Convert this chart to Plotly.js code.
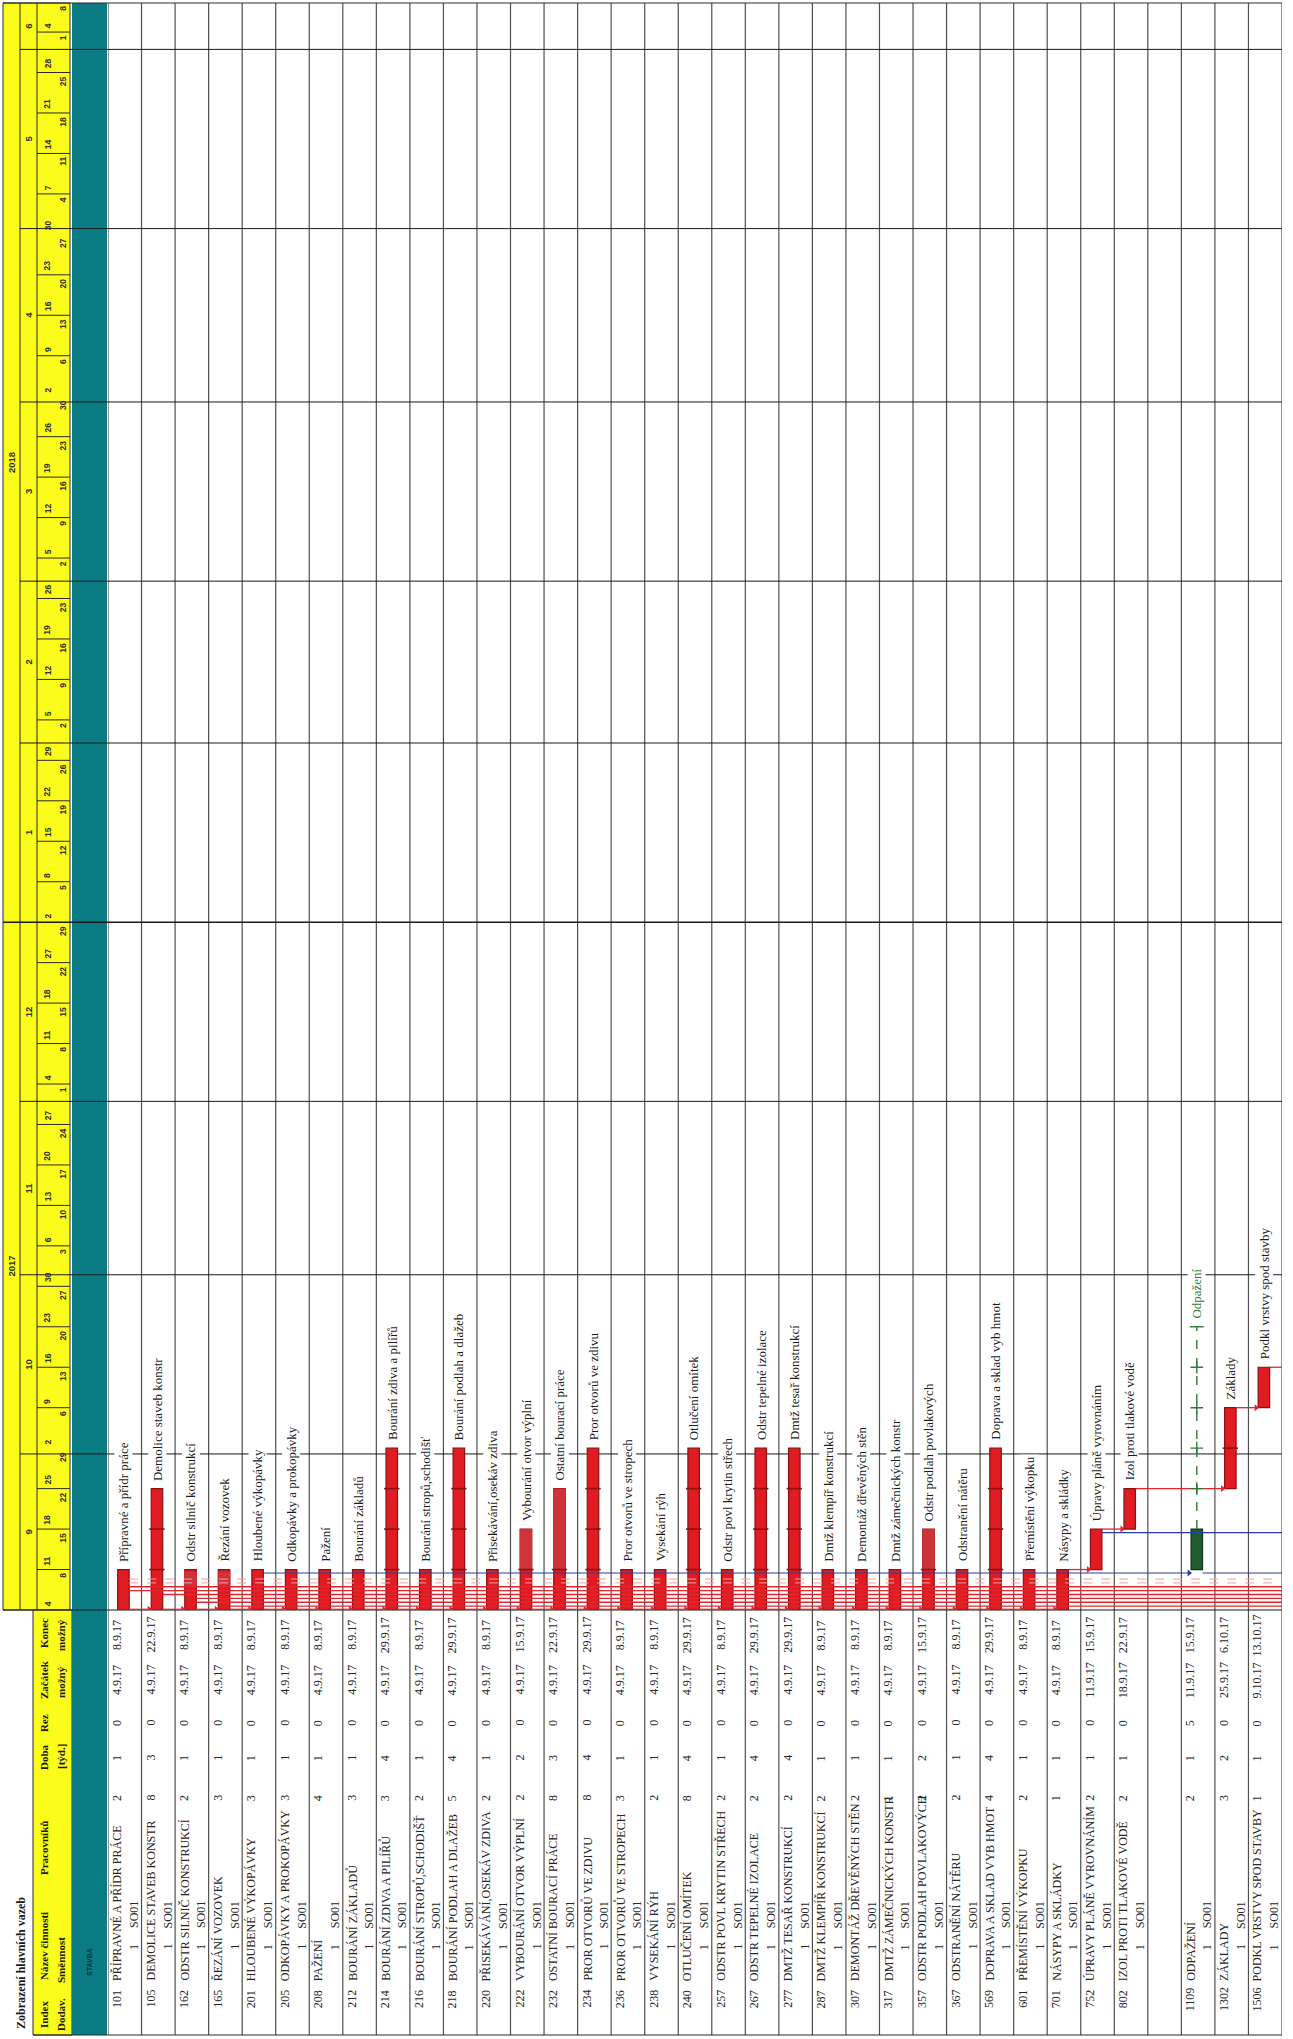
<!DOCTYPE html>
<html><head><meta charset="utf-8">
<script src="https://cdn.plot.ly/plotly-3.0.1.min.js"></script>
<style>html,body{margin:0;padding:0;background:#fff}#g{width:1293px;height:2039px}</style>
</head><body><div id="g"></div>
<script>
// ================= DATA =================
const indexy = [101,105,162,165,201,205,208,212,214,216,218,220,222,232,234,236,238,240,257,267,277,287,307,317,357,367,569,601,701,752,802,null,1109,1302,1506];
const nazvy = ["PŘÍPRAVNÉ A PŘÍDR PRÁCE","DEMOLICE STAVEB KONSTR","ODSTR SILNIČ KONSTRUKCÍ","ŘEZÁNÍ VOZOVEK","HLOUBENÉ VÝKOPÁVKY","ODKOPÁVKY A PROKOPÁVKY","PAŽENÍ","BOURÁNÍ ZÁKLADŮ","BOURÁNÍ ZDIVA A PILÍŘŮ","BOURÁNÍ STROPŮ,SCHODIŠŤ","BOURÁNÍ PODLAH A DLAŽEB","PŘISEKÁVÁNÍ,OSEKÁV ZDIVA","VYBOURÁNÍ OTVOR VÝPLNÍ","OSTATNÍ BOURACÍ PRÁCE","PROR OTVORŮ VE ZDIVU","PROR OTVORŮ VE STROPECH","VYSEKÁNÍ RÝH","OTLUČENÍ OMÍTEK","ODSTR POVL KRYTIN STŘECH","ODSTR TEPELNÉ IZOLACE","DMTŽ TESAŘ KONSTRUKCÍ","DMTŽ KLEMPÍŘ KONSTRUKCÍ","DEMONTÁŽ DŘEVĚNÝCH STĚN","DMTŽ ZÁMEČNICKÝCH KONSTR","ODSTR PODLAH POVLAKOVÝCH","ODSTRANĚNÍ NÁTĚRU","DOPRAVA A SKLAD VYB HMOT","PŘEMÍSTĚNÍ VÝKOPKU","NÁSYPY A SKLÁDKY","ÚPRAVY PLÁNĚ VYROVNÁNÍM","IZOL PROTI TLAKOVÉ VODĚ",null,"ODPAŽENÍ","ZÁKLADY","PODKL VRSTVY SPOD STAVBY"];
const popisky = ["Přípravné a přídr práce","Demolice staveb konstr","Odstr silnič konstrukcí","Řezání vozovek","Hloubené výkopávky","Odkopávky a prokopávky","Pažení","Bourání základů","Bourání zdiva a pilířů","Bourání stropů,schodišť","Bourání podlah a dlažeb","Přisekávání,osekáv zdiva","Vybourání otvor výplní","Ostatní bourací práce","Pror otvorů ve zdivu","Pror otvorů ve stropech","Vysekání rýh","Otlučení omítek","Odstr povl krytin střech","Odstr tepelné izolace","Dmtž tesař konstrukcí","Dmtž klempíř konstrukcí","Demontáž dřevěných stěn","Dmtž zámečnických konstr","Odstr podlah povlakových","Odstranění nátěru","Doprava a sklad vyb hmot","Přemístění výkopku","Násypy a skládky","Úpravy pláně vyrovnáním","Izol proti tlakové vodě",null,"Odpažení","Základy","Podkl vrstvy spod stavby"];
const pracovniku = [2,8,2,3,3,3,4,3,3,2,5,2,2,8,8,3,2,8,2,2,2,2,2,1,2,2,4,2,1,2,2,null,2,3,1];
const doba = [1,3,1,1,1,1,1,1,4,1,4,1,2,3,4,1,1,4,1,4,4,1,1,1,2,1,4,1,1,1,1,null,1,2,1];
const rezerva = [0,0,0,0,0,0,0,0,0,0,0,0,0,0,0,0,0,0,0,0,0,0,0,0,0,0,0,0,0,0,0,null,5,0,0];
const zacatek = ["4.9.17","4.9.17","4.9.17","4.9.17","4.9.17","4.9.17","4.9.17","4.9.17","4.9.17","4.9.17","4.9.17","4.9.17","4.9.17","4.9.17","4.9.17","4.9.17","4.9.17","4.9.17","4.9.17","4.9.17","4.9.17","4.9.17","4.9.17","4.9.17","4.9.17","4.9.17","4.9.17","4.9.17","4.9.17","11.9.17","18.9.17",null,"11.9.17","25.9.17","9.10.17"];
const konec = ["8.9.17","22.9.17","8.9.17","8.9.17","8.9.17","8.9.17","8.9.17","8.9.17","29.9.17","8.9.17","29.9.17","8.9.17","15.9.17","22.9.17","29.9.17","8.9.17","8.9.17","29.9.17","8.9.17","29.9.17","29.9.17","8.9.17","8.9.17","8.9.17","15.9.17","8.9.17","29.9.17","8.9.17","8.9.17","15.9.17","22.9.17",null,"15.9.17","6.10.17","13.10.17"];
const smennost = "1";
const objekt = "SO01";
const kriticka = [1,1,1,1,1,1,1,1,1,1,1,1,1,1,1,1,1,1,1,1,1,1,1,1,1,1,1,1,1,1,1,null,0,1,1];
const lehkeUkoly = [2,3,12,13,24];
const lehkeOd = [4.2,4.2,7,7,7];
const lehkeDelka = [2.4,2.4,7,14,7];
const pondeli = ["4","11","18","25","2","9","16","23","30","6","13","20","27","4","11","18","27","2","8","15","22","29","5","12","19","26","5","12","19","26","2","9","16","23","30","7","14","21","28","4"];
const patky = ["8","15","22","29","6","13","20","27","3","10","17","24","1","8","15","22","29","5","12","19","26","2","9","16","23","2","9","16","23","30","6","13","20","27","4","11","18","25","1","8"];
const mesice = ["9","10","11","12","1","2","3","4","5","6"];
const mesiceRok = [2017,2017,2017,2017,2018,2018,2018,2018,2018,2018];
const mesiceCislo = [9,10,11,12,1,2,3,4,5,6];
const roky = ["2017","2018"];
const vazbyOd  = [0,1,2,3,4,5,6,7,8,9,10,11,12,13,14,15,16,17,18,19,20,21,22,23,24,25,26,27, 3,2,2,1,0,0,0,0, 28,29,30,33,34, 4,32,29];
const vazbyDo  = [1,2,3,4,5,6,7,8,9,10,11,12,13,14,15,16,17,18,19,20,21,22,23,24,25,26,27,28, -1,-1,-1,-1,-1,-1,-1,-1, 29,30,33,34,-1, 32,-1,-1];
const vazbyTyp = ["SS","SS","SS","SS","SS","SS","SS","SS","SS","SS","SS","SS","SS","SS","SS","SS","SS","SS","SS","SS","SS","SS","SS","SS","SS","SS","SS","SS", "SS","SS","SS","SS","SS","SS","SS","SS", "FS","FS","FS","FS","FS", "FS","SS","FS"];
const vazbyDruh= ["k","k","k","k","k","k","k","k","k","k","k","k","k","k","k","k","k","k","k","k","k","k","k","k","k","k","k","k", "k","k","k","k","k","k","p","p", "k","k","k","k","k", "n","n","n"];

// ================= GEOMETRY =================
const W=1293,H=2039;
const X0=108,X1=1282,NC=35,CW=(X1-X0)/NC;
const Y0=1610,YT=3,K=5.78,YTOP=(Y0-YT)/K;
const px=v=>v/W, py=v=>1-v/H;
const BASE=Date.UTC(2017,8,4);
const dnu=s=>{const p=s.split('.').map(Number);return (Date.UTC(2000+p[2],p[1]-1,p[0])-BASE)/864e5;};
const BC=-0.04, BW=11.5/CW;

const startD=zacatek.map(s=>s?dnu(s):null);
const endD=startD.map((s,i)=>s===null?null:s+doba[i]*7);
const ukoly=indexy.map((v,i)=>i).filter(i=>indexy[i]!==null);

const RED='#e11b22', REDL='#8a1111', GRN='#1f5c30', GRNL='#0e351a', LIGHT='#cf3238';

const traces=[];
traces.push({type:'bar',x:ukoly,base:ukoly.map(i=>startD[i]),y:ukoly.map(i=>doba[i]*7),
  width:BW,offset:BC-BW/2,
  marker:{color:ukoly.map(i=>kriticka[i]?RED:GRN),line:{color:ukoly.map(i=>kriticka[i]?REDL:GRNL),width:1.2}},
  hoverinfo:'skip'});
const LW=BW+0.03;
traces.push({type:'bar',x:lehkeUkoly,base:lehkeOd,y:lehkeDelka,width:LW,offset:BC-LW/2,
  marker:{color:LIGHT,line:{width:0}},hoverinfo:'skip'});
const tx=[],ty=[];
ukoly.forEach(i=>{
  for(let k=1;k<doba[i];k++){
    const d=startD[i]+7*k;
    const li=lehkeUkoly.indexOf(i);
    if(li>=0 && d>lehkeOd[li]+0.01 && d<lehkeOd[li]+lehkeDelka[li]) continue;
    tx.push(i+BC);ty.push(d);
  }
});
traces.push({type:'scatter',mode:'markers',x:tx,y:ty,marker:{symbol:'line-ew',size:11,line:{color:REDL,width:1.6}},hoverinfo:'skip'});

let lane=0;
const lvl=[];
vazbyOd.forEach((f,k)=>{
  const t=vazbyDo[k],typ=vazbyTyp[k],dr=vazbyDruh[k];
  let y;
  if(dr==='n') y=(typ==='FS'?endD[f]:startD[f])-0.6;
  else if(typ==='SS' && t<0){ lane++; y=startD[f]+lane*0.67; }
  else if(typ==='SS') y=startD[f]+0.12;
  else y=endD[f];
  lvl.push(y);
});
const styl={k:{color:'#e3262d',width:1.3,dash:'solid'},p:{color:'#f0a0a4',width:1,dash:'dash'},n:{color:'#2b3f9e',width:1.2,dash:'solid'}};
['p','k','n'].forEach(dr=>{
  const lx=[],ly=[],ax=[],ay=[];
  vazbyOd.forEach((f,k)=>{
    if(vazbyDruh[k]!==dr) return;
    const t=vazbyDo[k];
    const xs=f+BC+BW/2, xe=t<0?NC-0.5:t+BC-BW/2;
    lx.push(xs,xe,null);ly.push(lvl[k],lvl[k],null);
    if(t>=0){ax.push(xe-0.06);ay.push(lvl[k]);}
  });
  traces.push({type:'scatter',mode:'lines',x:lx,y:ly,line:styl[dr],hoverinfo:'skip',connectgaps:false});
  if(ax.length) traces.push({type:'scatter',mode:'markers',x:ax,y:ay,marker:{symbol:'triangle-right',size:6,color:styl[dr].color},hoverinfo:'skip'});
});

const rx=[],ry=[],plx=[],ply=[],capx=[],capy=[];
ukoly.forEach(i=>{
  if(!rezerva[i]) return;
  const a=endD[i], b=endD[i]+rezerva[i]*7;
  rx.push(i+BC,i+BC,null);ry.push(a,b,null);
  for(let k=1;k<rezerva[i];k++){plx.push(i+BC);ply.push(a+7*k);}
  capx.push(i+BC);capy.push(b);
});
traces.push({type:'scatter',mode:'lines',x:rx,y:ry,line:{color:'#2f7a3a',width:1.4,dash:'dash'},hoverinfo:'skip'});
traces.push({type:'scatter',mode:'markers',x:plx,y:ply,marker:{symbol:'cross-thin',size:9,line:{color:'#2f7a3a',width:1.4}},hoverinfo:'skip'});
traces.push({type:'scatter',mode:'markers',x:capx,y:capy,marker:{symbol:'line-ew',size:10,line:{color:'#2f7a3a',width:1.4}},hoverinfo:'skip'});

// ================= SHAPES =================
const shapes=[];
const L=(o)=>shapes.push(Object.assign({type:'line',layer:'below',line:{color:'#2a2a2a',width:1}},o));
shapes.push({type:'rect',layer:'below',xref:'paper',yref:'paper',x0:px(3),x1:px(70),y0:py(Y0),y1:py(YT),fillcolor:'#fbfb1c',line:{color:'#2a2a2a',width:1}});
shapes.push({type:'rect',layer:'below',xref:'paper',yref:'paper',x0:px(33),x1:px(72),y0:py(2035),y1:py(Y0),fillcolor:'#fbfb1c',line:{color:'#2a2a2a',width:1}});
shapes.push({type:'rect',layer:'below',xref:'paper',yref:'paper',x0:px(72),x1:px(107),y0:py(2035),y1:py(YT),fillcolor:'#0b7c83',line:{width:0}});
L({xref:'paper',yref:'paper',x0:px(20),x1:px(20),y0:py(Y0),y1:py(YT)});
L({xref:'paper',yref:'paper',x0:px(37),x1:px(37),y0:py(Y0),y1:py(YT)});
for(let k=0;k<=NC;k++) L({xref:'x',yref:'paper',x0:k-0.5,x1:k-0.5,y0:py(2035),y1:py(YT),line:{color:'#505050',width:1.2}});
L({xref:'paper',yref:'paper',x0:px(3),x1:px(X1),y0:py(YT),y1:py(YT)});
L({xref:'paper',yref:'paper',x0:px(3),x1:px(X1),y0:py(Y0),y1:py(Y0),line:{color:'#1a1a1a',width:1.2}});
L({xref:'paper',yref:'paper',x0:px(33),x1:px(X1),y0:py(2035),y1:py(2035)});
const mStart=mesice.map((m,i)=>(Date.UTC(mesiceRok[i],mesiceCislo[i]-1,1)-BASE)/864e5);
const mEnd=mesice.map((m,i)=>i<mesice.length-1?mStart[i+1]:YTOP);
mStart.forEach((d,i)=>{
  if(d<=0) return;
  const jan=mesiceCislo[i]===1;
  L({xref:'paper',yref:'y',x0:px(jan?3:20),x1:px(X1),y0:d,y1:d,line:{color:'#1a1a1a',width:jan?1.4:1}});
});
for(let w=1;w<pondeli.length;w++){
  const d=7*w;
  if(mStart.some(m=>Math.abs(m-d)<1.5)) continue;
  L({xref:'paper',yref:'y',x0:px(37),x1:px(70),y0:d,y1:d});
}

// ================= ANNOTATIONS =================
const ann=[];
const A=o=>ann.push(Object.assign({showarrow:false,textangle:-90,xanchor:'center',yanchor:'middle',
  font:{family:'Liberation Serif',size:12,color:'#262626'}},o));
const HF={family:'Liberation Sans',size:8.5,color:'#303030',weight:'bold'};
const jan1=mStart[mesiceCislo.indexOf(1)];
const ySpan=[[0,jan1],[jan1,YTOP]];
roky.forEach((r,i)=>A({xref:'paper',yref:'y',x:px(11.5),y:(ySpan[i][0]+ySpan[i][1])/2,text:r,font:{family:'Liberation Sans',size:9.5,color:'#303030',weight:'bold'}}));
mesice.forEach((m,i)=>{
  const a=Math.max(0,mStart[i]), b=Math.min(YTOP,mEnd[i]);
  A({xref:'paper',yref:'y',x:px(28.5),y:(a+b)/2,text:m,font:{family:'Liberation Sans',size:9.5,color:'#303030',weight:'bold'}});
});
pondeli.forEach((t,w)=>{
  A({xref:'paper',yref:'y',x:px(47.5),y:7*w+0.3,yanchor:'bottom',text:t,font:HF});
  A({xref:'paper',yref:'y',x:px(63),y:Math.min(7*w+6.7,YTOP-0.2),yanchor:'top',text:patky[w],font:HF});
});
const TH={family:'Liberation Serif',size:11,color:'#1a1a1a',weight:'bold'};
A({xref:'paper',yref:'paper',x:px(21),y:py(2031),yanchor:'bottom',text:'Zobrazení hlavních vazeb',font:{family:'Liberation Serif',size:12,color:'#1a1a1a',weight:'bold'}});
[['Index',2015],['Název činnosti',1946],['Pracovníků',1848],['Doba',1757],['Rez',1723],['Začátek',1680],['Konec',1633]].forEach(a=>A({xref:'paper',yref:'paper',x:px(44),y:py(a[1]),text:a[0],font:TH}));
[['Dodav.',2015],['Směnnost',1960],['[týd.]',1757],['možný',1682],['možný',1635]].forEach(a=>A({xref:'paper',yref:'paper',x:px(61),y:py(a[1]),text:a[0],font:TH}));
A({xref:'paper',yref:'paper',x:px(89),y:py(1962),text:'STAVBA',font:{family:'Liberation Sans',size:7,color:'#06343a',weight:'bold'}});
ukoly.forEach(i=>{
  const x1=i-0.5+9/CW, x2=i-0.5+26/CW;
  A({xref:'x',yref:'paper',x:x1,y:py(1999),text:String(indexy[i])});
  A({xref:'x',yref:'paper',x:x1,y:py(1983),yanchor:'bottom',text:nazvy[i]});
  A({xref:'x',yref:'paper',x:x1,y:py(1798),text:String(pracovniku[i])});
  A({xref:'x',yref:'paper',x:x1,y:py(1758),text:String(doba[i])});
  A({xref:'x',yref:'paper',x:x1,y:py(1723),text:String(rezerva[i])});
  A({xref:'x',yref:'paper',x:x1,y:py(1680),text:zacatek[i]});
  A({xref:'x',yref:'paper',x:x1,y:py(1635),text:konec[i]});
  A({xref:'x',yref:'paper',x:x2,y:py(1947),text:smennost});
  A({xref:'x',yref:'paper',x:x2,y:py(1915),text:objekt});
});
ukoly.forEach(i=>{
  const top=endD[i]+(rezerva[i]||0)*7;
  A({xref:'x',yref:'y',x:i+BC,y:top,yanchor:'bottom',yshift:6,text:popisky[i],bgcolor:'#ffffff',borderpad:1,
    font:{family:'Liberation Serif',size:13,color:kriticka[i]?'#1c1c1c':'#2f7a3a'}});
});

const layout={
  width:W,height:H,margin:{l:0,r:0,t:0,b:0,pad:0},
  paper_bgcolor:'#ffffff',plot_bgcolor:'rgba(0,0,0,0)',
  showlegend:false,hovermode:false,barmode:'overlay',
  xaxis:{domain:[px(X0),px(X1)],range:[-0.5,NC-0.5],showgrid:false,zeroline:false,showticklabels:false,ticks:'',showline:false,fixedrange:true},
  yaxis:{domain:[py(Y0),py(YT)],range:[0,YTOP],showgrid:false,zeroline:false,showticklabels:false,ticks:'',showline:false,fixedrange:true},
  shapes:shapes,annotations:ann
};
Plotly.newPlot('g',traces,layout,{staticPlot:true,displayModeBar:false});
</script></body></html>
